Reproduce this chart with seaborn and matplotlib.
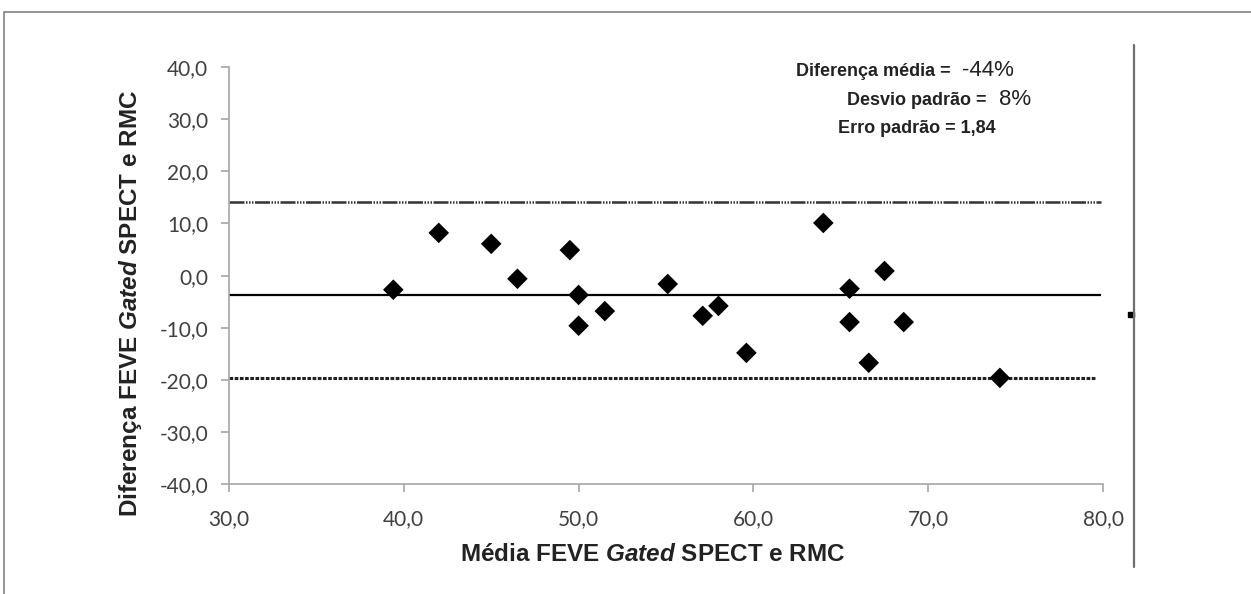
import pandas as pd
import seaborn as sns
import matplotlib.pyplot as plt
from matplotlib.lines import Line2D
from matplotlib.patches import Rectangle

# valores (Bland-Altman FEVE Gated SPECT x RMC)
media_feve = [39.4, 42.0, 45.0, 46.5, 49.5, 50.0, 50.0, 51.5, 55.1, 57.1,
              58.0, 59.6, 64.0, 65.5, 65.5, 66.6, 67.5, 68.6, 74.1]
diferenca_feve = [-2.7, 8.2, 6.1, -0.6, 4.9, -3.7, -9.6, -6.8, -1.6, -7.7,
                  -5.8, -14.8, 10.1, -2.5, -8.9, -16.7, 0.9, -8.9, -19.6]

limite_superior = 14.1
diferenca_media = -3.7
limite_inferior = -19.7

x_ticks = [30, 40, 50, 60, 70, 80]
x_tick_labels = ['30,0', '40,0', '50,0', '60,0', '70,0', '80,0']
y_ticks = [-40, -30, -20, -10, 0, 10, 20, 30, 40]
y_tick_labels = ['-40,0', '-30,0', '-20,0', '-10,0', '0,0', '10,0', '20,0', '30,0', '40,0']

df = pd.DataFrame({'media': media_feve, 'diferenca': diferenca_feve})

sns.set_style('white')
sans = ['Liberation Sans', 'DejaVu Sans']
plt.rcParams['font.family'] = ['Lato', 'DejaVu Sans']
plt.rcParams['mathtext.fontset'] = 'custom'
plt.rcParams['mathtext.bfit'] = 'Liberation Sans:italic:bold'

fig = plt.figure(figsize=(12.51, 5.94), dpi=100)
ax = fig.add_axes([229 / 1251, 1 - 484.3 / 594, 874 / 1251, 417.3 / 594])

sns.scatterplot(data=df, x='media', y='diferenca', marker='D', s=110,
                color='black', edgecolor='none', ax=ax, zorder=3)

ax.hlines(limite_superior, 30, 79.9, color='#333333', lw=1.8,
          linestyle=(0, (6, 0.6, 0.6, 0.6, 0.6, 0.6, 0.6, 0.6)))
ax.hlines(diferenca_media, 30, 79.9, color='black', lw=1.6)
ax.hlines(limite_inferior, 30, 79.6, color='#222222', lw=2.2,
          linestyle=(0, (1.2, 0.5)))

ax.set_xlim(30, 80)
ax.set_ylim(-40, 40)
ax.set_xticks(x_ticks, x_tick_labels)
ax.set_yticks(y_ticks, y_tick_labels)
ax.tick_params(axis='both', which='major', length=6, width=1.2, color='#a6a6a6',
               labelcolor='#404040', labelsize=15, direction='out',
               bottom=True, left=True)
ax.tick_params(axis='y', pad=9)
ax.tick_params(axis='x', pad=12)
for side in ['top', 'right']:
    ax.spines[side].set_visible(False)
for side in ['left', 'bottom']:
    ax.spines[side].set_color('#a6a6a6')
    ax.spines[side].set_linewidth(1.2)

ax.set_xlabel(r'Média FEVE $\mathbfit{Gated}$ SPECT e RMC', family=sans,
              fontweight='bold', fontsize=17.5, color='#222222')
ax.set_ylabel(r'Diferença FEVE $\mathbfit{Gated}$ SPECT e RMC', family=sans,
              fontweight='bold', fontsize=17.5, color='#222222')
ax.xaxis.set_label_coords(0.485, -0.141)
ax.yaxis.set_label_coords(-0.097, 0.434)

# quadro de estatísticas
ax.text(0.649, 0.979, 'Diferença média =', transform=ax.transAxes, family=sans,
        fontweight='bold', fontsize=13, color='#222222', va='baseline')
ax.text(0.839, 0.979, '-44%', transform=ax.transAxes, family=sans,
        fontsize=16, color='#222222', va='baseline')
ax.text(0.707, 0.909, 'Desvio padrão =', transform=ax.transAxes, family=sans,
        fontweight='bold', fontsize=13, color='#222222', va='baseline')
ax.text(0.881, 0.909, '8%', transform=ax.transAxes, family=sans,
        fontsize=16, color='#222222', va='baseline')
ax.text(0.697, 0.842, 'Erro padrão = 1,84', transform=ax.transAxes, family=sans,
        fontweight='bold', fontsize=13, color='#222222', va='baseline')

# moldura da figura
fig.add_artist(Line2D([4 / 1251, 1], [1 - 12 / 594, 1 - 12 / 594], color='#8c8c8c', lw=1.3))
fig.add_artist(Line2D([4 / 1251, 4 / 1251], [0, 1 - 12 / 594], color='#8c8c8c', lw=1.3))
fig.add_artist(Line2D([1134 / 1251, 1134 / 1251], [1 - 567 / 594, 1 - 45 / 594],
                      color='#6e6e6e', lw=1.6))
fig.add_artist(Rectangle((1128 / 1251, 1 - 317 / 594), 6 / 1251, 5 / 594,
                         transform=fig.transFigure, color='black'))

fig.savefig('out.png', dpi=100)
